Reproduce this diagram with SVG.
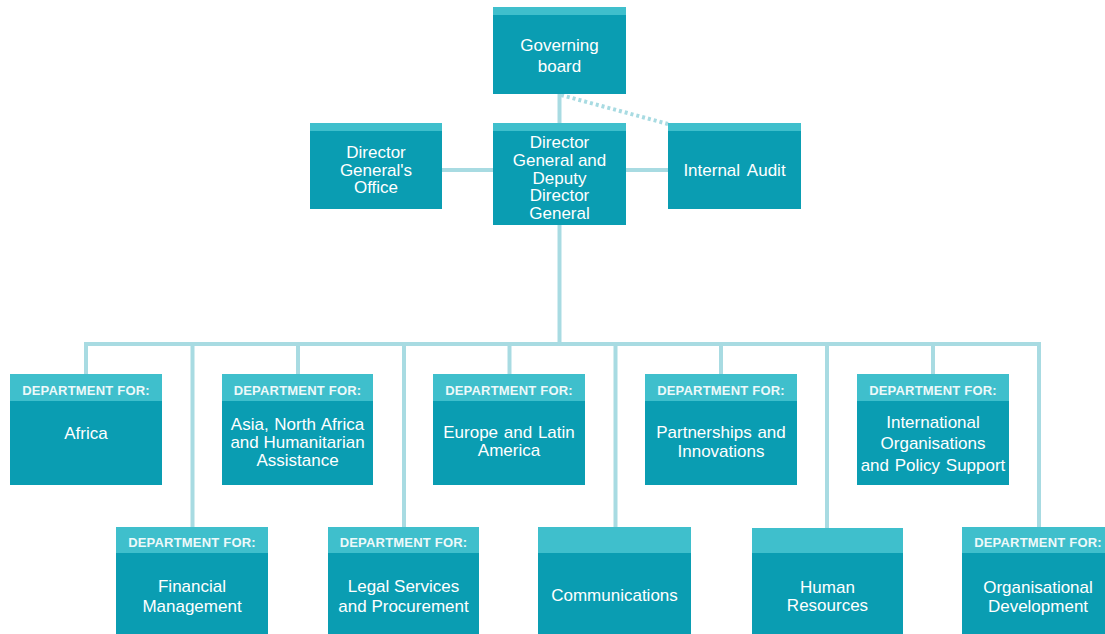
<svg xmlns="http://www.w3.org/2000/svg" width="1105" height="634" viewBox="0 0 1105 634">
<style>
.body{fill:#0a9db2}
.hdr{fill:#3fbfcc}
.t{font-family:"Liberation Sans",Arial,sans-serif;font-size:17px;fill:#ffffff;text-anchor:middle}
.tl{font-family:"Liberation Sans",Arial,sans-serif;font-size:17px;fill:#ffffff;text-anchor:middle}
.h{font-family:"Liberation Sans",Arial,sans-serif;font-size:13px;font-weight:bold;fill:#eef9fa;text-anchor:middle;letter-spacing:0.2px}
.ln{stroke:#a8dbe2;stroke-width:4;fill:none}
.dot{stroke:#a8dbe2;stroke-width:4;fill:none;stroke-dasharray:3 3}
</style>
<rect width="1105" height="634" fill="#ffffff"/>
<g id="connectors">
<line class="ln" x1="559.5" y1="94" x2="559.5" y2="123"/>
<line class="dot" x1="561" y1="95" x2="668" y2="124"/>
<line class="ln" x1="442" y1="170" x2="493" y2="170"/>
<line class="ln" x1="626" y1="170" x2="668" y2="170"/>
<line class="ln" x1="559.5" y1="225" x2="559.5" y2="344"/>
<line class="ln" x1="84" y1="344" x2="1041" y2="344"/>
<line class="ln" x1="86" y1="344" x2="86" y2="374"/>
<line class="ln" x1="298" y1="344" x2="298" y2="374"/>
<line class="ln" x1="509.5" y1="344" x2="509.5" y2="374"/>
<line class="ln" x1="721" y1="344" x2="721" y2="374"/>
<line class="ln" x1="933" y1="344" x2="933" y2="374"/>
<line class="ln" x1="192.5" y1="344" x2="192.5" y2="527"/>
<line class="ln" x1="404" y1="344" x2="404" y2="527"/>
<line class="ln" x1="615.5" y1="344" x2="615.5" y2="527"/>
<line class="ln" x1="827" y1="344" x2="827" y2="528"/>
<line class="ln" x1="1039" y1="344" x2="1039" y2="527"/>
</g>
<g id="governing-board">
<rect class="body" x="493" y="7" width="133" height="87"/>
<rect class="hdr" x="493" y="7" width="133" height="8"/>
<text class="tl" x="559.5" y="51">Governing</text>
<text class="tl" x="559.5" y="72">board</text>
</g>
<g id="dg-office">
<rect class="body" x="310" y="123" width="132" height="86"/>
<rect class="hdr" x="310" y="123" width="132" height="8"/>
<text class="tl" x="376" y="158">Director</text>
<text class="tl" x="376" y="176">General's</text>
<text class="tl" x="376" y="193">Office</text>
</g>
<g id="dg">
<rect class="body" x="493" y="123" width="133" height="102"/>
<rect class="hdr" x="493" y="123" width="133" height="8"/>
<text class="tl" x="559.5" y="148">Director</text>
<text class="tl" x="559.5" y="166">General and</text>
<text class="tl" x="559.5" y="184">Deputy</text>
<text class="tl" x="559.5" y="201">Director</text>
<text class="tl" x="559.5" y="219">General</text>
</g>
<g id="internal-audit">
<rect class="body" x="668" y="123" width="133" height="86"/>
<rect class="hdr" x="668" y="123" width="133" height="8"/>
<text class="tl" x="734.5" y="176" word-spacing="3">Internal Audit</text>
</g>
<g id="africa">
<rect class="body" x="10" y="374" width="152" height="111"/>
<rect class="hdr" x="10" y="374" width="152" height="27"/>
<text class="h" x="86" y="395">DEPARTMENT FOR:</text>
<text class="t" x="86" y="439">Africa</text>
</g>
<g id="asia">
<rect class="body" x="222" y="374" width="151" height="111"/>
<rect class="hdr" x="222" y="374" width="151" height="27"/>
<text class="h" x="297.5" y="395">DEPARTMENT FOR:</text>
<text class="t" x="297.5" y="430" word-spacing="1">Asia, North Africa</text>
<text class="t" x="297.5" y="448">and Humanitarian</text>
<text class="t" x="297.5" y="466">Assistance</text>
</g>
<g id="europe">
<rect class="body" x="433" y="374" width="152" height="111"/>
<rect class="hdr" x="433" y="374" width="152" height="27"/>
<text class="h" x="509" y="395">DEPARTMENT FOR:</text>
<text class="t" x="509" y="438" word-spacing="1">Europe and Latin</text>
<text class="t" x="509" y="456">America</text>
</g>
<g id="partnerships">
<rect class="body" x="645" y="374" width="152" height="111"/>
<rect class="hdr" x="645" y="374" width="152" height="27"/>
<text class="h" x="721" y="395">DEPARTMENT FOR:</text>
<text class="t" x="721" y="438" word-spacing="1">Partnerships and</text>
<text class="t" x="721" y="457">Innovations</text>
</g>
<g id="intl-org">
<rect class="body" x="857" y="374" width="152" height="111"/>
<rect class="hdr" x="857" y="374" width="152" height="27"/>
<text class="h" x="933" y="395">DEPARTMENT FOR:</text>
<text class="t" x="933" y="428">International</text>
<text class="t" x="933" y="449">Organisations</text>
<text class="t" x="933" y="471" word-spacing="1">and Policy Support</text>
</g>
<g id="financial">
<rect class="body" x="116" y="527" width="152" height="110"/>
<rect class="hdr" x="116" y="527" width="152" height="26"/>
<text class="h" x="192" y="547">DEPARTMENT FOR:</text>
<text class="t" x="192" y="592">Financial</text>
<text class="t" x="192" y="612">Management</text>
</g>
<g id="legal">
<rect class="body" x="328" y="527" width="151" height="110"/>
<rect class="hdr" x="328" y="527" width="151" height="26"/>
<text class="h" x="403.5" y="547">DEPARTMENT FOR:</text>
<text class="t" x="403.5" y="592">Legal Services</text>
<text class="t" x="403.5" y="612">and Procurement</text>
</g>
<g id="communications">
<rect class="body" x="538" y="527" width="153" height="110"/>
<rect class="hdr" x="538" y="527" width="153" height="26"/>
<text class="t" x="614.5" y="601">Communications</text>
</g>
<g id="human-resources">
<rect class="body" x="752" y="528" width="151" height="109"/>
<rect class="hdr" x="752" y="528" width="151" height="25"/>
<text class="t" x="827.5" y="593">Human</text>
<text class="t" x="827.5" y="611">Resources</text>
</g>
<g id="org-dev">
<rect class="body" x="962" y="527" width="152" height="110"/>
<rect class="hdr" x="962" y="527" width="152" height="26"/>
<text class="h" x="1038" y="547">DEPARTMENT FOR:</text>
<text class="t" x="1038" y="593">Organisational</text>
<text class="t" x="1038" y="612">Development</text>
</g>
</svg>
